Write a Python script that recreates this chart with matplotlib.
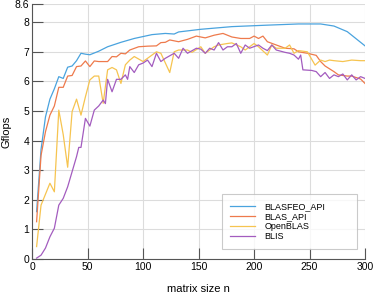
import matplotlib
matplotlib.use('Agg')
import matplotlib.pyplot as plt

plt.rcParams['font.family'] = ['Liberation Sans', 'DejaVu Sans']

# BLASFEO_API
n_blasfeo = [4, 8, 12, 16, 20, 24, 28, 32, 36, 40, 44, 48, 52, 60, 68, 80, 92, 108, 120, 128,
             132, 152, 180, 212, 240, 260, 272, 284, 300]
gf_blasfeo = [1.6, 3.7, 4.8, 5.4, 5.75, 6.16, 6.1, 6.48, 6.52, 6.7, 6.95, 6.92, 6.9, 7.02, 7.17,
              7.32, 7.45, 7.58, 7.62, 7.6, 7.67, 7.76, 7.85, 7.9, 7.94, 7.94, 7.87, 7.68, 7.2]

# BLAS_API
n_blas = [4, 8, 12, 16, 20, 24, 28, 32, 36, 40, 44, 48, 52, 56, 60, 68, 72, 76, 80, 84, 88, 96,
          104, 112, 116, 120, 124, 132, 140, 148, 156, 164, 172, 180, 188, 196, 200, 204, 208,
          212, 220, 228, 236, 240, 248, 256, 260, 264, 272, 276, 284, 288, 296, 300]
gf_blas = [1.26, 3.5, 4.3, 4.86, 5.17, 5.8, 5.8, 6.18, 6.2, 6.5, 6.52, 6.69, 6.5, 6.69, 6.67,
           6.67, 6.84, 6.83, 6.95, 6.93, 7.06, 7.17, 7.19, 7.2, 7.31, 7.32, 7.4, 7.34, 7.42, 7.53,
           7.47, 7.56, 7.62, 7.5, 7.45, 7.45, 7.53, 7.45, 7.53, 7.34, 7.23, 7.12, 7.1, 7.0, 6.95,
           6.88, 6.67, 6.52, 6.33, 6.22, 6.18, 6.18, 6.08, 5.93]

# OpenBLAS
n_open = [4, 8, 16, 20, 24, 28, 32, 36, 40, 44, 48, 52, 56, 60, 64, 68, 72, 76, 80, 84, 88, 92,
          100, 108, 112, 116, 124, 128, 132, 140, 144, 152, 156, 164, 168, 176, 180, 188, 192,
          200, 204, 212, 216, 220, 228, 232, 236, 240, 248, 255, 260, 264, 268, 272, 280, 288,
          296, 300]
gf_open = [0.42, 1.82, 2.56, 2.27, 5.03, 4.2, 3.1, 4.98, 5.4, 4.86, 5.48, 6.05, 6.18, 6.18, 5.26,
           6.39, 6.47, 6.39, 5.93, 6.56, 6.72, 6.84, 6.67, 6.89, 7.0, 6.95, 6.3, 7.0, 7.06, 7.06,
           6.98, 7.17, 6.95, 7.17, 7.23, 7.28, 7.3, 7.17, 7.06, 7.28, 7.17, 6.89, 7.23, 7.12,
           7.12, 7.23, 6.95, 7.04, 7.0, 6.55, 6.72, 6.67, 6.72, 6.7, 6.67, 6.72, 6.7, 6.7]

# BLIS
n_blis = [4, 8, 12, 16, 20, 24, 28, 32, 36, 40, 42, 44, 48, 52, 56, 60, 64, 66, 68, 72, 76, 80,
          84, 86, 88, 92, 96, 100, 104, 108, 112, 116, 120, 128, 132, 136, 140, 148, 152, 156,
          160, 164, 168, 172, 176, 180, 184, 188, 192, 196, 204, 208, 212, 216, 220, 228, 232,
          236, 240, 242, 244, 252, 256, 260, 264, 268, 272, 276, 280, 284, 288, 292, 296, 300]
gf_blis = [0.03, 0.13, 0.37, 0.75, 1.04, 1.82, 2.05, 2.44, 2.95, 3.46, 3.77, 3.77, 4.75, 4.49,
           5.03, 5.17, 5.37, 5.25, 6.07, 5.65, 6.07, 6.07, 6.22, 6.07, 6.5, 6.3, 6.56, 6.62, 6.72,
           6.5, 6.95, 6.67, 6.78, 6.95, 6.78, 7.12, 6.95, 7.12, 7.09, 6.95, 7.12, 7.06, 7.31,
           7.06, 7.17, 7.17, 7.28, 6.95, 7.23, 7.12, 7.23, 7.12, 7.04, 7.23, 7.06, 6.98, 6.95,
           6.89, 6.75, 6.89, 6.39, 6.37, 6.33, 6.16, 6.3, 6.1, 6.22, 6.16, 6.25, 6.05, 6.22, 6.05,
           6.16, 6.1]

yticks = [0, 1, 2, 3, 4, 5, 6, 7, 8, 8.6]
ytick_labels = ['0', '1', '2', '3', '4', '5', '6', '7', '8', '8.6']
xticks = [0, 50, 100, 150, 200, 250, 300]

fig = plt.figure(figsize=(3.74, 2.95), dpi=100)
ax = fig.add_axes([0.086, 0.122, 0.89, 0.863])

ax.plot(n_blasfeo, gf_blasfeo, color='#4aa3de', lw=0.9, label='BLASFEO_API')
ax.plot(n_blas, gf_blas, color='#ee7a4c', lw=0.9, label='BLAS_API')
ax.plot(n_open, gf_open, color='#f6c450', lw=0.9, label='OpenBLAS')
ax.plot(n_blis, gf_blis, color='#a35cbf', lw=0.9, label='BLIS')

ax.set_xlim(0, 300)
ax.set_ylim(0, 8.6)
ax.set_xticks(xticks)
ax.set_yticks(yticks)
ax.set_yticklabels(ytick_labels)
ax.grid(True, color='#dcdcdc', lw=0.8)
ax.set_axisbelow(True)
for s in ['top', 'right']:
    ax.spines[s].set_visible(False)
for s in ['left', 'bottom']:
    ax.spines[s].set_color('#555555')
    ax.spines[s].set_linewidth(0.8)
ax.tick_params(direction='in', length=8, width=0.8, color='#555555',
               labelsize=7.5, pad=2)

ax.set_xlabel('matrix size n', fontsize=8, labelpad=9)
ax.set_ylabel('Gflops', fontsize=8, labelpad=2.5)

leg = ax.legend(loc='lower left', bbox_to_anchor=(0.571, 0.038, 0.405, 0.18),
                mode='expand', fontsize=6.5, frameon=True, fancybox=False,
                handlelength=2.7, labelspacing=0.1, borderpad=0.9,
                handletextpad=1.1, borderaxespad=0.0)
leg.get_frame().set_edgecolor('#bdbdbd')
leg.get_frame().set_linewidth(0.8)

fig.savefig('out.png', dpi=100)
